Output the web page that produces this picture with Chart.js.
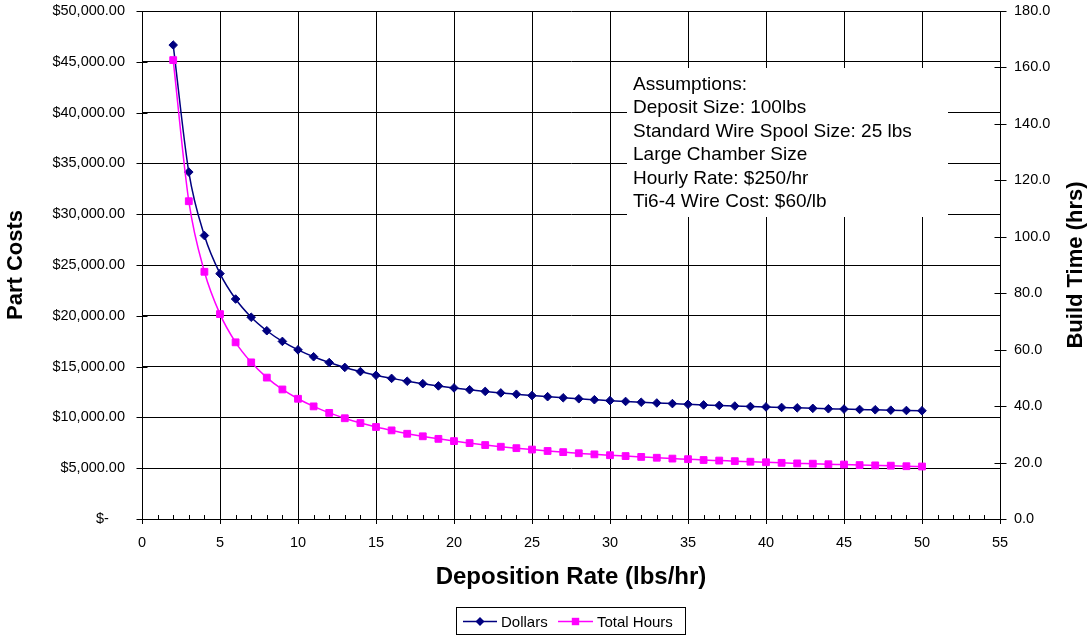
<!DOCTYPE html>
<html>
<head>
<meta charset="utf-8">
<title>Part Costs and Build Time vs Deposition Rate</title>
<script src="https://cdn.jsdelivr.net/npm/chart.js@4.4.0/dist/chart.umd.min.js"></script>
<style>
  html, body { margin: 0; padding: 0; background: #ffffff; }
  #wrap { width: 1088px; height: 636px; position: relative; }
</style>
</head>
<body>
<div id="wrap"><canvas id="c" width="1088" height="636"></canvas></div>
<script>
// Deposition rate (lbs/hr)
const depositionRate = [2, 3, 4, 5, 6, 7, 8, 9, 10, 11, 12, 13, 14, 15, 16, 17, 18, 19, 20,
  21, 22, 23, 24, 25, 26, 27, 28, 29, 30, 31, 32, 33, 34, 35, 36, 37, 38, 39, 40,
  41, 42, 43, 44, 45, 46, 47, 48, 49, 50];

// Part cost in dollars (left axis)
const dollars = [46650, 34150, 27900, 24150, 21650, 19860, 18530, 17480, 16650, 15970,
  15400, 14920, 14510, 14150, 13840, 13560, 13320, 13100, 12900, 12720,
  12560, 12410, 12280, 12150, 12040, 11930, 11830, 11740, 11650, 11570,
  11490, 11420, 11360, 11290, 11230, 11180, 11120, 11070, 11030, 10980,
  10940, 10890, 10850, 10820, 10780, 10750, 10710, 10680, 10650];

// Total build hours (right axis)
const totalHours = [162.6, 112.6, 87.6, 72.6, 62.6, 55.5, 50.1, 45.9, 42.6, 39.9,
  37.6, 35.7, 34.0, 32.6, 31.4, 30.2, 29.3, 28.4, 27.6, 26.9,
  26.2, 25.6, 25.1, 24.6, 24.1, 23.7, 23.3, 22.9, 22.6, 22.3,
  22.0, 21.7, 21.4, 21.2, 20.9, 20.7, 20.5, 20.3, 20.1, 19.9,
  19.7, 19.6, 19.4, 19.3, 19.1, 19.0, 18.9, 18.7, 18.6];

// Axis tick values
const rateTicks = [0, 5, 10, 15, 20, 25, 30, 35, 40, 45, 50, 55];
const costTicks = [0, 5000, 10000, 15000, 20000, 25000, 30000, 35000, 40000, 45000, 50000];
const hourTicks = [0, 20, 40, 60, 80, 100, 120, 140, 160, 180];

// Text box contents
const assumptions = [
  'Assumptions:',
  'Deposit Size: 100lbs',
  'Standard Wire Spool Size: 25 lbs',
  'Large Chamber Size',
  'Hourly Rate: $250/hr',
  'Ti6-4 Wire Cost: $60/lb'
];

const FONT = '"Liberation Sans", Arial, Helvetica, sans-serif';
const NAVY = '#000080';
const MAGENTA = '#FF00FF';

function formatCost(v) {
  if (v === 0) return '$-    ';
  return '$' + v.toLocaleString('en-US', { minimumFractionDigits: 2, maximumFractionDigits: 2 });
}

const dollarPoints = depositionRate.map((x, i) => ({ x: x, y: dollars[i] }));
const hourPoints = depositionRate.map((x, i) => ({ x: x, y: totalHours[i] }));

// Vertical axes: keep label padding from pushing the plot area inwards
function trimVerticalPadding(scale, width) {
  scale.width = width;
  scale.paddingTop = 0;
  scale.paddingBottom = 0;
}

// Tick marks, the right-hand axis title, the assumptions box and the legend
const decor = {
  id: 'decor',
  beforeDatasetsDraw(chart) {
    const ctx = chart.ctx;
    const area = chart.chartArea;
    const bx = area.left + 485, by = area.top + 57, bw = 321, bh = 149;
    ctx.save();
    ctx.fillStyle = '#ffffff';
    ctx.fillRect(bx, by, bw, bh);
    ctx.fillStyle = '#000000';
    ctx.font = '19px ' + FONT;
    ctx.textAlign = 'left';
    ctx.textBaseline = 'alphabetic';
    assumptions.forEach((line, i) => {
      ctx.fillText(line, bx + 6, by + 21.5 + i * 23.5);
    });
    ctx.restore();
  },
  afterDraw(chart) {
    const ctx = chart.ctx;
    const area = chart.chartArea;
    const xs = chart.scales.x, yl = chart.scales.y, yr = chart.scales.y1;
    ctx.save();
    ctx.strokeStyle = '#000000';
    ctx.lineWidth = 1;
    ctx.beginPath();
    const axisY = Math.round(area.bottom) + 0.5;
    for (let v = 0; v <= 55; v++) {
      const px = Math.round(xs.getPixelForValue(v)) + 0.5;
      ctx.moveTo(px, axisY - 4.5);
      ctx.lineTo(px, v % 5 === 0 ? axisY + 4.5 : axisY);
    }
    const lx = Math.round(area.left) + 0.5;
    costTicks.forEach(v => {
      const py = Math.round(yl.getPixelForValue(v)) + 0.5;
      ctx.moveTo(lx - 6, py);
      ctx.lineTo(lx + 5, py);
    });
    const rx = Math.round(area.right) + 0.5;
    hourTicks.forEach(v => {
      const py = Math.round(yr.getPixelForValue(v)) + 0.5;
      ctx.moveTo(rx - 6, py);
      ctx.lineTo(rx + 6, py);
    });
    ctx.stroke();

    // Right axis title, reading bottom to top
    ctx.save();
    ctx.translate(1076, (area.top + area.bottom) / 2);
    ctx.rotate(-Math.PI / 2);
    ctx.font = 'bold 22px ' + FONT;
    ctx.fillStyle = '#000000';
    ctx.textAlign = 'center';
    ctx.textBaseline = 'middle';
    ctx.fillText('Build Time (hrs)', 0, 0);
    ctx.restore();

    // Legend
    const lgX = 456.5, lgY = 607.5, lgW = 229, lgH = 27;
    ctx.fillStyle = '#ffffff';
    ctx.fillRect(lgX, lgY, lgW, lgH);
    ctx.strokeStyle = '#000000';
    ctx.lineWidth = 1;
    ctx.strokeRect(lgX, lgY, lgW, lgH);
    const cy = 621.5;
    const entries = [
      { label: 'Dollars', color: NAVY, x0: 463, x1: 497, tx: 501, shape: 'diamond' },
      { label: 'Total Hours', color: MAGENTA, x0: 558, x1: 593, tx: 597, shape: 'square' }
    ];
    entries.forEach(e => {
      ctx.strokeStyle = e.color;
      ctx.fillStyle = e.color;
      ctx.lineWidth = 1.5;
      ctx.beginPath();
      ctx.moveTo(e.x0, cy);
      ctx.lineTo(e.x1, cy);
      ctx.stroke();
      const mx = (e.x0 + e.x1) / 2;
      ctx.beginPath();
      if (e.shape === 'diamond') {
        ctx.moveTo(mx - 4.5, cy);
        ctx.lineTo(mx, cy - 4.5);
        ctx.lineTo(mx + 4.5, cy);
        ctx.lineTo(mx, cy + 4.5);
        ctx.closePath();
      } else {
        ctx.rect(mx - 3.7, cy - 3.7, 7.4, 7.4);
      }
      ctx.fill();
      ctx.fillStyle = '#000000';
      ctx.font = '15px ' + FONT;
      ctx.textAlign = 'left';
      ctx.textBaseline = 'alphabetic';
      ctx.fillText(e.label, e.tx, 626.5);
    });
    ctx.restore();
  }
};

new Chart(document.getElementById('c'), {
  type: 'line',
  data: {
    datasets: [
      {
        label: 'Dollars',
        data: dollarPoints,
        yAxisID: 'y',
        borderColor: NAVY,
        backgroundColor: NAVY,
        borderWidth: 1.5,
        pointStyle: 'rectRot',
        pointRadius: 4.3,
        pointBorderWidth: 1,
        pointBorderColor: NAVY,
        pointBackgroundColor: NAVY,
        cubicInterpolationMode: 'monotone',
        fill: false,
        order: 2
      },
      {
        label: 'Total Hours',
        data: hourPoints,
        yAxisID: 'y1',
        borderColor: MAGENTA,
        backgroundColor: MAGENTA,
        borderWidth: 1.5,
        pointStyle: 'rect',
        pointRadius: 4.8,
        pointBorderWidth: 1,
        pointBorderColor: MAGENTA,
        pointBackgroundColor: MAGENTA,
        cubicInterpolationMode: 'monotone',
        fill: false,
        order: 1
      }
    ]
  },
  options: {
    responsive: false,
    animation: false,
    events: [],
    layout: { padding: { top: 11, left: 0, right: 0, bottom: 0 } },
    plugins: {
      legend: { display: false },
      tooltip: { enabled: false },
      title: { display: false }
    },
    scales: {
      x: {
        type: 'linear',
        position: 'bottom',
        min: 0,
        max: 55,
        afterBuildTicks: (scale) => { scale.ticks = rateTicks.map(v => ({ value: v })); },
        afterFit: (scale) => { scale.height = 117; scale.paddingLeft = 0; scale.paddingRight = 0; },
        ticks: {
          color: '#000000',
          font: { family: FONT, size: 14.5 },
          padding: 15,
          maxRotation: 0,
          autoSkip: false
        },
        grid: { color: '#000000', lineWidth: 1, drawTicks: false },
        border: { display: true, color: '#000000', width: 1 },
        title: {
          display: true,
          text: 'Deposition Rate (lbs/hr)',
          color: '#000000',
          font: { family: FONT, size: 24, weight: 'bold' },
          padding: { top: 0, bottom: 44.5 }
        }
      },
      y: {
        type: 'linear',
        position: 'left',
        min: 0,
        max: 50000,
        afterBuildTicks: (scale) => { scale.ticks = costTicks.map(v => ({ value: v })); },
        afterFit: (scale) => trimVerticalPadding(scale, 142),
        ticks: {
          color: '#000000',
          font: { family: FONT, size: 14.5 },
          padding: 17,
          autoSkip: false,
          callback: (v) => formatCost(v)
        },
        grid: { color: '#000000', lineWidth: 1, drawTicks: false },
        border: { display: true, color: '#000000', width: 1 },
        title: {
          display: true,
          text: 'Part Costs',
          color: '#000000',
          font: { family: FONT, size: 22, weight: 'bold' },
          padding: { top: 3, bottom: 0 }
        }
      },
      y1: {
        type: 'linear',
        position: 'right',
        min: 0,
        max: 180,
        afterBuildTicks: (scale) => { scale.ticks = hourTicks.map(v => ({ value: v })); },
        afterFit: (scale) => trimVerticalPadding(scale, 88),
        ticks: {
          color: '#000000',
          font: { family: FONT, size: 14.5 },
          padding: 14,
          autoSkip: false,
          callback: (v) => v.toFixed(1)
        },
        grid: { display: false, drawTicks: false },
        border: { display: true, color: '#000000', width: 1 }
      }
    }
  },
  plugins: [decor]
});
</script>
</body>
</html>
